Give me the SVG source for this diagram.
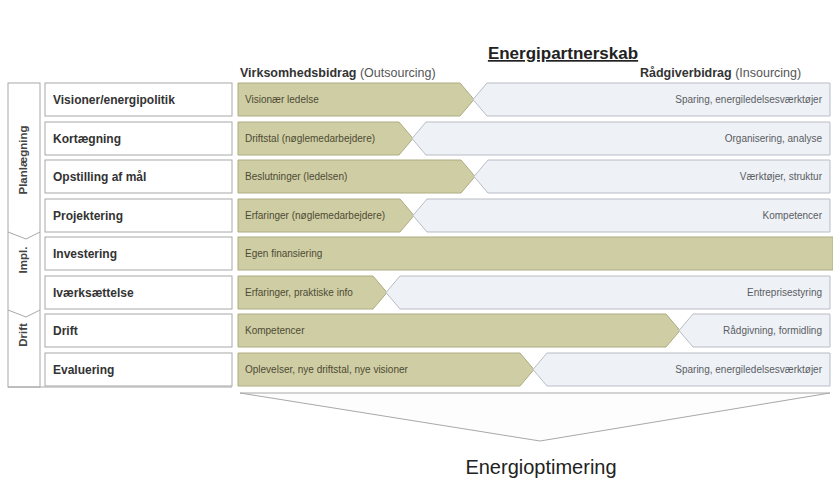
<svg xmlns="http://www.w3.org/2000/svg" width="833" height="481" viewBox="0 0 833 481">
<style>
text{font-family:"Liberation Sans",Arial,sans-serif}
.g{fill:#cfcda3;stroke:#aeac82;stroke-width:1}
.b{fill:#eef1f5;stroke:#b8bdc5;stroke-width:1}
.nb{fill:#fff;stroke:#a8a8a8;stroke-width:1}
.nt{font-size:12px;font-weight:bold;fill:#333}
.gt{font-size:10px;fill:#4d4b35}
.bt{font-size:10px;fill:#5a5d63;text-anchor:end}
.ph{font-size:11.5px;font-weight:bold;fill:#444;text-anchor:middle}
.frame{fill:none;stroke:#a8a8a8;stroke-width:1}
</style>
<rect width="833" height="481" fill="#fff"/>
<text x="563" y="59" font-size="17" font-weight="bold" fill="#222" text-anchor="middle" text-decoration="underline">Energipartnerskab</text>
<text x="240" y="77" font-size="12.5" fill="#333"><tspan font-weight="bold">Virksomhedsbidrag</tspan><tspan fill="#555"> (Outsourcing)</tspan></text>
<text x="640" y="77" font-size="12.5" fill="#333"><tspan font-weight="bold">Rådgiverbidrag</tspan><tspan fill="#555"> (Insourcing)</tspan></text>

<g id="phases">
<rect class="frame" x="8" y="83" width="32" height="304"/>
<polyline class="frame" points="8,232 26,239 40,232"/>
<polyline class="frame" points="8,310 26,317 40,310"/>
<line class="frame" x1="8" y1="387" x2="232" y2="387"/>
<text class="ph" transform="translate(27,160) rotate(-90)">Planlægning</text>
<text class="ph" transform="translate(27,260) rotate(-90)">Impl.</text>
<text class="ph" transform="translate(27,335) rotate(-90)">Drift</text>
</g>

<g id="row1">
<rect class="nb" x="45" y="83" width="187" height="33"/>
<text class="nt" x="53" y="104">Visioner/energipolitik</text>
<polygon class="g" points="238,83 460,83 474,99.5 460,116 238,116"/>
<polygon class="b" points="487,83 830,83 830,116 487,116 473,99.5"/>
<text class="gt" x="245" y="103">Visionær ledelse</text>
<text class="bt" x="822" y="103">Sparing, energiledelsesværktøjer</text>
</g>
<g id="row2">
<rect class="nb" x="45" y="122" width="187" height="33"/>
<text class="nt" x="53" y="143">Kortægning</text>
<polygon class="g" points="238,122 399,122 413,138.5 399,155 238,155"/>
<polygon class="b" points="426,122 830,122 830,155 426,155 412,138.5"/>
<text class="gt" x="245" y="142">Driftstal (nøglemedarbejdere)</text>
<text class="bt" x="822" y="142">Organisering, analyse</text>
</g>
<g id="row3">
<rect class="nb" x="45" y="160" width="187" height="33"/>
<text class="nt" x="53" y="181">Opstilling af mål</text>
<polygon class="g" points="238,160 461,160 475,176.5 461,193 238,193"/>
<polygon class="b" points="488,160 830,160 830,193 488,193 474,176.5"/>
<text class="gt" x="245" y="180">Beslutninger (ledelsen)</text>
<text class="bt" x="822" y="180">Værktøjer, struktur</text>
</g>
<g id="row4">
<rect class="nb" x="45" y="199" width="187" height="33"/>
<text class="nt" x="53" y="220">Projektering</text>
<polygon class="g" points="238,199 400,199 414,215.5 400,232 238,232"/>
<polygon class="b" points="427,199 830,199 830,232 427,232 413,215.5"/>
<text class="gt" x="245" y="219">Erfaringer (nøglemedarbejdere)</text>
<text class="bt" x="822" y="219">Kompetencer</text>
</g>
<g id="row5">
<rect class="nb" x="45" y="237" width="187" height="33"/>
<text class="nt" x="53" y="258">Investering</text>
<rect class="g" x="238" y="237" width="595" height="33"/>
<text class="gt" x="245" y="257">Egen finansiering</text>
</g>
<g id="row6">
<rect class="nb" x="45" y="276" width="187" height="33"/>
<text class="nt" x="53" y="297">Iværksættelse</text>
<polygon class="g" points="238,276 373,276 387,292.5 373,309 238,309"/>
<polygon class="b" points="400,276 830,276 830,309 400,309 386,292.5"/>
<text class="gt" x="245" y="296">Erfaringer, praktiske info</text>
<text class="bt" x="822" y="296">Entreprisestyring</text>
</g>
<g id="row7">
<rect class="nb" x="45" y="314" width="187" height="33"/>
<text class="nt" x="53" y="335">Drift</text>
<polygon class="g" points="238,314 666,314 680,330.5 666,347 238,347"/>
<polygon class="b" points="693,314 830,314 830,347 693,347 679,330.5"/>
<text class="gt" x="245" y="334">Kompetencer</text>
<text class="bt" x="822" y="334">Rådgivning, formidling</text>
</g>
<g id="row8">
<rect class="nb" x="45" y="353" width="187" height="33"/>
<text class="nt" x="53" y="374">Evaluering</text>
<polygon class="g" points="238,353 520,353 534,369.5 520,386 238,386"/>
<polygon class="b" points="547,353 830,353 830,386 547,386 533,369.5"/>
<text class="gt" x="245" y="373">Oplevelser, nye driftstal, nye visioner</text>
<text class="bt" x="822" y="373">Sparing, energiledelsesværktøjer</text>
</g>

<g id="connectors">
<polygon points="240,393 830,393 540,441" fill="#fdfdfd" stroke="#a8a8a8" stroke-width="1"/>
</g>
<text x="541" y="474" font-size="20" fill="#222" text-anchor="middle">Energioptimering</text>
</svg>
